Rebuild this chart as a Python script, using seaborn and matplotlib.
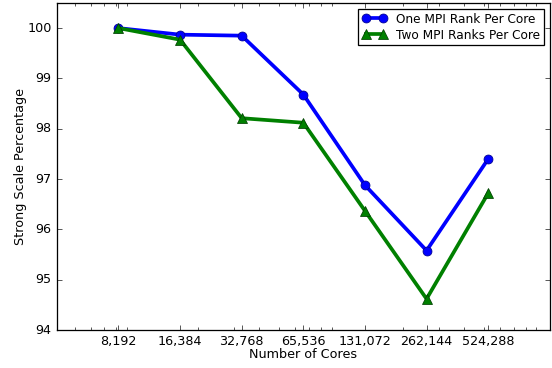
import matplotlib
matplotlib.use("Agg")
import matplotlib.pyplot as plt
import seaborn as sns
import pandas as pd
from matplotlib.ticker import NullFormatter, FixedLocator, LogLocator, ScalarFormatter

cores = [8192, 16384, 32768, 65536, 131072, 262144, 524288]
tick_labels = ["8,192", "16,384", "32,768", "65,536", "131,072", "262,144", "524,288"]
one_rank = [100.0, 99.87, 99.85, 98.68, 96.88, 95.58, 97.40]
two_ranks = [100.0, 99.77, 98.21, 98.12, 96.37, 94.62, 96.72]
series_names = ["One MPI Rank Per Core", "Two MPI Ranks Per Core"]

plt.style.use("classic")
plt.rcParams["font.family"] = ["DejaVu Sans"]
plt.rcParams["figure.facecolor"] = "white"
plt.rcParams["savefig.facecolor"] = "white"
plt.rcParams["axes.formatter.useoffset"] = False

df = pd.DataFrame({"cores": cores, "one": one_rank, "two": two_ranks})

fig, ax = plt.subplots(figsize=(6, 4), dpi=92)
fig.subplots_adjust(left=0.103, right=0.996, top=0.992, bottom=0.103)

sns.lineplot(data=df, x="cores", y="one", ax=ax, color="b", marker="o",
             lw=2.9, ms=7, mec="#00008b", mew=0.6, label=series_names[0])
sns.lineplot(data=df, x="cores", y="two", ax=ax, color="g", marker="^",
             lw=2.9, ms=7.5, mec="#004000", mew=0.6, label=series_names[1])

ax.set_xscale("log")
ax.set_xlim(4096, 1048576)
ax.set_ylim(94, 100.5)
ax.xaxis.set_major_locator(FixedLocator(cores))
ax.set_xticklabels(tick_labels)
ax.xaxis.set_minor_locator(LogLocator(base=10, subs=range(2, 10)))
ax.xaxis.set_minor_formatter(NullFormatter())
ax.set_yticks([94, 95, 96, 97, 98, 99, 100])
fmt = ScalarFormatter(useOffset=False)
ax.yaxis.set_major_formatter(fmt)
ax.tick_params(labelsize=10)
ax.set_xlabel("Number of Cores", fontsize=10, labelpad=0)
ax.set_ylabel("Strong Scale Percentage", fontsize=10, labelpad=0)
ax.grid(False)

leg = ax.legend(loc="upper right", fontsize=9.5, numpoints=2, borderaxespad=0.5,
                handlelength=2.0, borderpad=0.3, labelspacing=0.25)
leg.get_frame().set_edgecolor("black")

fig.savefig("out.png", dpi=92)
